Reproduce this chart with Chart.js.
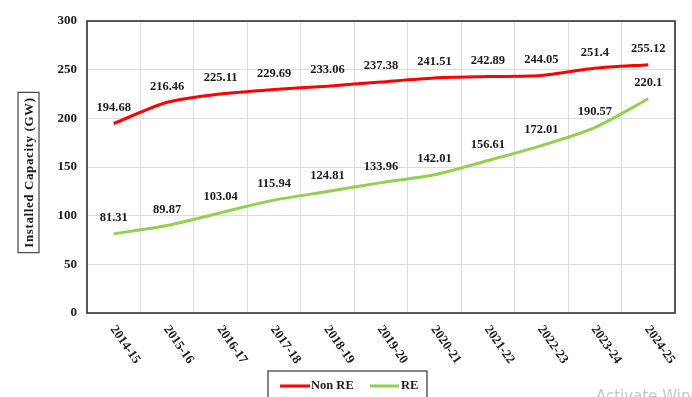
<!DOCTYPE html>
<html>
<head>
<meta charset="utf-8">
<script src="https://cdn.jsdelivr.net/npm/chart.js@4"></script>
<style>
html,body{margin:0;padding:0;background:#fff;}
#wrap{width:692px;height:397px;position:relative;}
</style>
</head>
<body>
<div id="wrap"><canvas id="c" width="692" height="397"></canvas></div>
<script>
const categories = ['2014-15','2015-16','2016-17','2017-18','2018-19','2019-20','2020-21','2021-22','2022-23','2023-24','2024-25'];
const nonRE = [194.68, 216.46, 225.11, 229.69, 233.06, 237.38, 241.51, 242.89, 244.05, 251.4, 255.12];
const re = [81.31, 89.87, 103.04, 115.94, 124.81, 133.96, 142.01, 156.61, 172.01, 190.57, 220.1];
const seriesNames = ['Non RE', 'RE'];
const yTicks = [0, 50, 100, 150, 200, 250, 300];
const yTitle = 'Installed Capacity (GW)';

const SERIF = '"Liberation Serif", "Times New Roman", serif';

const customDraw = {
  id: 'customDraw',
  afterDraw(chart) {
    const ctx = chart.ctx;
    const area = chart.chartArea;
    const xs = chart.scales.x;
    ctx.save();
    // plot border
    ctx.strokeStyle = '#333';
    ctx.lineWidth = 1.6;
    ctx.strokeRect(area.left, area.top, area.right - area.left, area.bottom - area.top);

    // data labels
    ctx.fillStyle = '#1a1a1a';
    ctx.font = 'bold 12.5px ' + SERIF;
    ctx.textAlign = 'center';
    ctx.textBaseline = 'middle';
    chart.data.datasets.forEach((ds, di) => {
      const meta = chart.getDatasetMeta(di);
      meta.data.forEach((pt, i) => {
        ctx.fillText(String(ds.data[i]), pt.x, pt.y - 16);
      });
    });

    // x tick labels rotated clockwise
    ctx.font = 'bold 13px ' + SERIF;
    ctx.textAlign = 'left';
    ctx.textBaseline = 'middle';
    categories.forEach((lab, i) => {
      const x = xs.getPixelForTick(i);
      ctx.save();
      ctx.translate(x - 1, area.bottom + 14);
      ctx.rotate(55 * Math.PI / 180);
      ctx.fillText(lab, 0, 0);
      ctx.restore();
    });

    // y title with box
    ctx.save();
    ctx.font = 'bold 13px ' + SERIF;
    ctx.letterSpacing = '0.6px';
    const tw = ctx.measureText(yTitle).width;
    const cx = 28.5, cy = 172.5;
    ctx.strokeStyle = '#444';
    ctx.lineWidth = 1.2;
    ctx.strokeRect(cx - 10.5, cy - tw / 2 - 5, 21, tw + 10);
    ctx.translate(cx, cy);
    ctx.rotate(-Math.PI / 2);
    ctx.textAlign = 'center';
    ctx.textBaseline = 'middle';
    ctx.fillStyle = '#1a1a1a';
    ctx.fillText(yTitle, 0, 1);
    ctx.restore();

    // legend
    ctx.strokeStyle = '#333';
    ctx.lineWidth = 1.2;
    ctx.strokeRect(268, 371, 159, 40);
    ctx.font = 'bold 12.5px ' + SERIF;
    ctx.textAlign = 'left';
    ctx.textBaseline = 'middle';
    const items = [
      {name: seriesNames[0], color: chart.data.datasets[0].borderColor, x1: 280, x2: 310, tx: 311},
      {name: seriesNames[1], color: chart.data.datasets[1].borderColor, x1: 370, x2: 399, tx: 401}
    ];
    items.forEach(it => {
      ctx.strokeStyle = it.color;
      ctx.lineWidth = 3;
      ctx.beginPath();
      ctx.moveTo(it.x1, 386);
      ctx.lineTo(it.x2, 386);
      ctx.stroke();
      ctx.fillStyle = '#1a1a1a';
      ctx.fillText(it.name, it.tx, 386);
    });

    // watermark
    ctx.fillStyle = 'rgba(160,160,160,0.6)';
    ctx.font = '15px "DejaVu Sans", sans-serif';
    ctx.fillText('Activate Windows', 596, 397);
    ctx.restore();
  }
};

new Chart(document.getElementById('c'), {
  type: 'line',
  data: {
    labels: categories,
    datasets: [
      {label: seriesNames[0], data: nonRE, borderColor: '#FF0000', backgroundColor: '#FF0000', borderWidth: 3, pointRadius: 0, tension: 0.25, fill: false},
      {label: seriesNames[1], data: re, borderColor: '#92D050', backgroundColor: '#92D050', borderWidth: 3, pointRadius: 0, tension: 0.25, fill: false}
    ]
  },
  options: {
    responsive: false,
    animation: false,
    events: [],
    layout: {padding: {top: 21, right: 17, bottom: 0, left: 0}},
    plugins: {legend: {display: false}, tooltip: {enabled: false}},
    scales: {
      x: {
        offset: true,
        grid: {offset: true, color: '#dcdcdc', lineWidth: 1, drawTicks: false},
        border: {display: false},
        ticks: {display: false},
        afterFit: s => { s.height = 84; }
      },
      y: {
        min: 0, max: 300,
        afterBuildTicks: s => { s.ticks = yTicks.map(v => ({value: v})); },
        grid: {color: '#dcdcdc', lineWidth: 1, drawTicks: false},
        border: {display: false},
        ticks: {padding: 10, color: '#1a1a1a', font: {family: SERIF, size: 13, weight: 'bold'}},
        afterFit: s => { s.width = 87; }
      }
    }
  },
  plugins: [customDraw]
});
</script>
</body>
</html>
